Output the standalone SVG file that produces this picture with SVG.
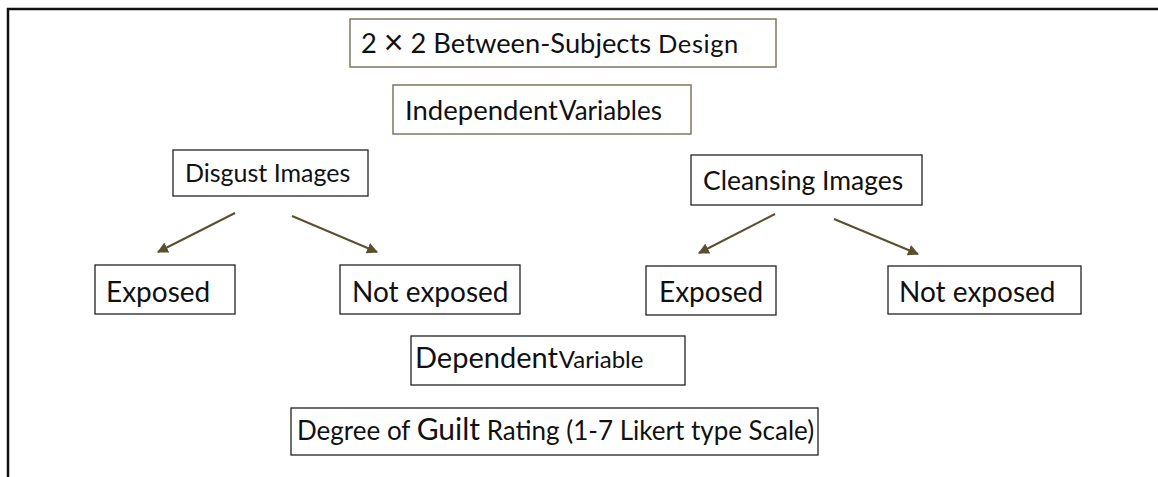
<svg xmlns="http://www.w3.org/2000/svg" width="1158" height="477" viewBox="0 0 1158 477">
<style>
  text { font-family: "Lato", "Open Sans", "Liberation Sans", sans-serif; fill: #111; }
  .box { fill: #fff; stroke: #222; stroke-width: 1.3; }
  .obox { fill: #fff; stroke: #7d7760; stroke-width: 1.5; }
  .conn { stroke: #5a5030; stroke-width: 2; fill: none; marker-end: url(#ah); }
</style>
<defs>
  <marker id="ah" viewBox="0 0 10 10" refX="9" refY="5" markerWidth="5.5" markerHeight="5.5" orient="auto">
    <path d="M0,0 L10,5 L0,10 z" fill="#5a5030"/>
  </marker>
</defs>
<rect width="1158" height="477" fill="#fff"/>
<g id="frame">
  <path d="M8,477 L8,9 L1158,9" fill="none" stroke="#111" stroke-width="2.5"/>
</g>
<g id="title">
  <rect class="obox" x="350" y="19" width="426" height="48"/>
  <text x="361" y="53" font-size="27.3">2 <tspan font-size="34" dy="1">×</tspan><tspan dy="-1"> 2 Between-Subjects </tspan><tspan font-size="25.5" letter-spacing="0.6">Design</tspan></text>
</g>
<g id="independent">
  <rect class="obox" x="393" y="85" width="298" height="49"/>
  <text x="405" y="120"><tspan font-size="27.5">Independent</tspan><tspan font-size="26" dx="1">Variables</tspan></text>
</g>
<g id="disgust">
  <rect class="box" x="173" y="150" width="195" height="46"/>
  <text x="185" y="182" font-size="25">Disgust Images</text>
</g>
<g id="cleansing">
  <rect class="box" x="691" y="155" width="231" height="50"/>
  <text x="703" y="190"><tspan font-size="26.5">Cleansing </tspan><tspan font-size="26.5">Images</tspan></text>
</g>
<g id="disgust-exposed">
  <rect class="box" x="95" y="265" width="140" height="49"/>
  <text x="106" y="302" font-size="28">Exposed</text>
</g>
<g id="disgust-not-exposed">
  <rect class="box" x="340" y="265" width="180" height="49"/>
  <text x="352" y="302" font-size="28">Not exposed</text>
</g>
<g id="cleansing-exposed">
  <rect class="box" x="646" y="266" width="130" height="49"/>
  <text x="659" y="302" font-size="28">Exposed</text>
</g>
<g id="cleansing-not-exposed">
  <rect class="box" x="888" y="266" width="193" height="48"/>
  <text x="899" y="302" font-size="28">Not exposed</text>
</g>
<g id="dependent">
  <rect class="box" x="411" y="336" width="274" height="49"/>
  <text x="415" y="368"><tspan font-size="29">Dependent</tspan><tspan font-size="24" dx="1">Variable</tspan></text>
</g>
<g id="guilt">
  <rect class="box" x="291" y="408" width="527" height="47"/>
  <text x="297" y="440"><tspan font-size="26">Degree of </tspan><tspan font-size="30">Guilt</tspan><tspan font-size="26"> Rating (1-7 Likert type Scale)</tspan></text>
</g>
<g id="connectors">
  <line class="conn" x1="235" y1="213" x2="158" y2="252"/>
  <line class="conn" x1="292" y1="216" x2="377" y2="252"/>
  <line class="conn" x1="775" y1="214" x2="699" y2="253"/>
  <line class="conn" x1="834" y1="219" x2="918" y2="254"/>
</g>
</svg>
